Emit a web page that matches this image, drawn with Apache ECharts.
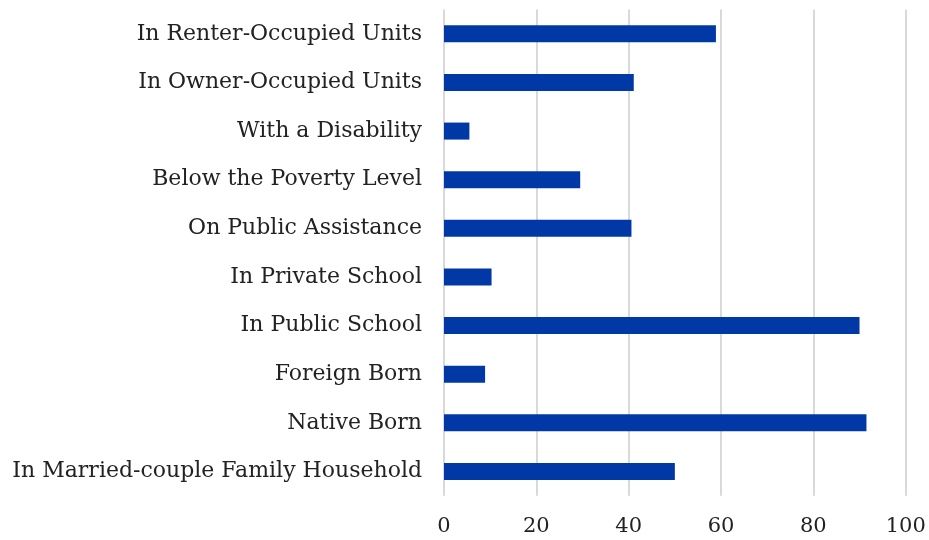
<!DOCTYPE html>
<html><head><meta charset="utf-8">
<script src="https://cdn.jsdelivr.net/npm/echarts@6/dist/echarts.min.js"></script>
<style>html,body{margin:0;padding:0;background:#fff}#c{width:929px;height:540px}</style>
</head><body><div id="c"></div>
<script>
const categories = [
  "In Renter-Occupied Units",
  "In Owner-Occupied Units",
  "With a Disability",
  "Below the Poverty Level",
  "On Public Assistance",
  "In Private School",
  "In Public School",
  "Foreign Born",
  "Native Born",
  "In Married-couple Family Household"
];
const values = [58.9, 41.1, 5.5, 29.5, 40.6, 10.3, 90.0, 8.9, 91.5, 50.0];
const xTicks = [0, 20, 40, 60, 80, 100];

const chart = echarts.init(document.getElementById('c'));
chart.setOption({
  animation: false,
  grid: { left: 444, right: 23.3, top: 9.5, bottom: 44.2, containLabel: false },
  xAxis: {
    type: 'value', min: xTicks[0], max: xTicks[xTicks.length - 1], interval: 20,
    axisLine: { show: false }, axisTick: { show: false },
    splitLine: { lineStyle: { color: '#d9d9d9', width: 2 } },
    axisLabel: { color: '#222', fontFamily: 'DejaVu Serif', fontSize: 21, margin: 20 }
  },
  yAxis: {
    type: 'category', data: categories, inverse: true,
    axisLine: { show: false }, axisTick: { show: false },
    axisLabel: { color: '#222', fontFamily: 'DejaVu Serif', fontSize: 22, margin: 22 }
  },
  series: [{
    type: 'bar', data: values, barWidth: '35%',
    itemStyle: { color: '#0039A6' }
  }]
});
</script></body></html>
